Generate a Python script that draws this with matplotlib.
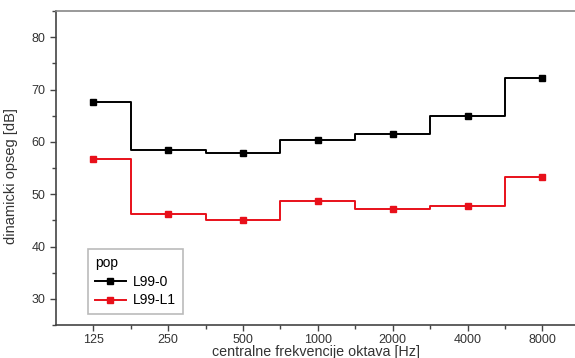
import matplotlib.pyplot as plt
from matplotlib.ticker import MultipleLocator

plt.rcParams['font.family'] = ['Liberation Sans', 'DejaVu Sans']

# octave band centre frequencies and dynamic range per series
freqs = ["125", "250", "500", "1000", "2000", "4000", "8000"]
l99_0 = [67.7, 58.5, 57.8, 60.4, 61.5, 64.9, 72.2]
l99_l1 = [56.7, 46.3, 45.1, 48.8, 47.1, 47.7, 53.3]

x = list(range(len(freqs)))
grey = "#444444"

fig = plt.figure(figsize=(5.75, 3.58), dpi=100)
ax = fig.add_axes([0.097, 0.092, 0.905, 0.877])

ax.step(x, l99_0, where="mid", color="black", lw=1.4)
ax.plot(x, l99_0, "s", color="black", ms=5)
ax.step(x, l99_l1, where="mid", color="#e8101a", lw=1.4)
ax.plot(x, l99_l1, "s", color="#e8101a", ms=5)

# legend proxies (line + marker)
h1, = ax.plot([], [], "-s", color="black", lw=1.4, ms=4, label="L99-0")
h2, = ax.plot([], [], "-s", color="#e8101a", lw=1.4, ms=4, label="L99-L1")
leg = ax.legend(handles=[h1, h2], title="pop", loc="lower left",
                bbox_to_anchor=(0.049, 0.012), fontsize=10, title_fontsize=10,
                fancybox=False, edgecolor="#bbbbbb", framealpha=1,
                handlelength=2.2, borderpad=0.5, labelspacing=0.35,
                handletextpad=0.5)
leg._legend_box.align = "left"
leg.get_frame().set_linewidth(1.2)

ax.set_xlim(-0.5, 6.45)
ax.set_ylim(25, 85)
ax.set_xticks(x)
ax.set_xticklabels(freqs)
ax.set_xticks([i + 0.5 for i in x[:-1]], minor=True)
ax.yaxis.set_minor_locator(MultipleLocator(5))
ax.set_yticks([30, 40, 50, 60, 70, 80])

ax.tick_params(which="both", direction="out", colors=grey, labelcolor="#333333", labelsize=9)
ax.tick_params(which="major", length=4, width=1)
ax.tick_params(which="minor", length=3, width=1)
ax.tick_params(axis="x", which="major", pad=2.5)

for s in ["left", "bottom"]:
    ax.spines[s].set_color(grey)
    ax.spines[s].set_linewidth(1.2)
ax.spines["top"].set_color("#888888")
ax.spines["top"].set_linewidth(1.2)
ax.spines["right"].set_visible(False)

ax.set_xlabel("centralne frekvencije oktava [Hz]", fontsize=10.3, color="#333333", labelpad=-1)
ax.set_ylabel("dinamicki opseg [dB]", fontsize=10.5, color="#333333", labelpad=5)
ax.yaxis.set_label_coords(-0.072, 0.475)

fig.savefig("out.png", dpi=100)
